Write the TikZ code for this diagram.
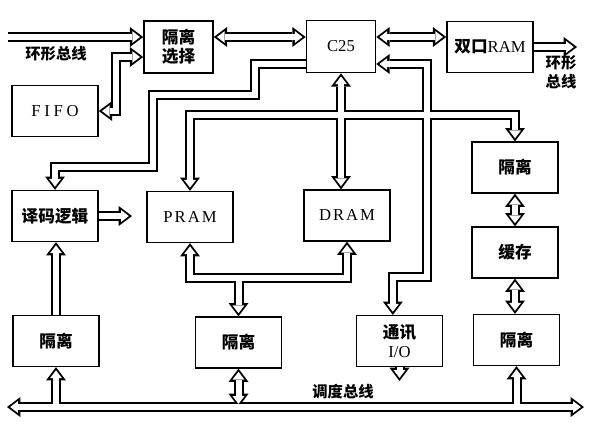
\documentclass[tikz,border=0pt]{standalone}
\usepackage{fontspec}
\setmainfont{Liberation Serif}
\newfontfamily\cjk{Noto Sans CJK SC}
\newfontfamily\spaced{Liberation Serif}[LetterSpace=22]
\newfontfamily\lessspaced{Liberation Serif}[LetterSpace=12]
\usetikzlibrary{arrows.meta}

\newcommand\zh[1]{{\cjk\bfseries #1}}

\tikzset{
  blk/.style={draw, line width=1.2pt, minimum width=64.5pt, minimum height=38pt,
              inner sep=1pt, align=center, font=\fontsize{12.5}{14}\selectfont},
  smallblk/.style={blk, minimum width=51.75pt, minimum height=39pt},
  lbl/.style={align=center, font=\fontsize{11.5}{14}\selectfont},
  busout/.style={line width=7.5pt, line join=miter,
                 >={Triangle[length=10pt,width=15pt,line width=0pt]}},
  busin/.style={white, line width=4.5pt, line join=miter,
                >={Triangle[length=5.8pt,width=8.9pt,sep=2.4pt,line width=0pt]}}
}

% every hollow bus, drawn once per pass
\newcommand\buslines{%
  \draw[->] (ringin) -- (ringin -| isosel.west);
  \draw[<->] (fifo.east) -| (fifobend) -- (fifobend -| isosel.west);
  \draw[<->] (ringin -| isosel.east) -- (ringin -| c25.west);
  \draw[<->] (ringin -| c25.east) -- (ringin -| dpram.west);
  \draw[->] (dpram.east) -- (ringout);
  \draw[->] (c25.west |- ka) -- (ka) |- (kb) |- (kc) -- (decode.north);
  \draw[<->] (c25.south) -- (c25.south |- dram.north);
  \draw[->] (hb) -| (pram.north);
  \draw[->] (hb) -| (isoR1.north);
  \draw[<->] (c25.east |- ka) -| (ke) -| ([xshift=-5pt]comm.north);
  \draw[->] (comm.south) -- (commout);
  \draw[->] (decode.east) -- (decout);
  \draw[->] (isoL.north) -- (isoL.north |- decode.south);
  \draw[<->] (pram.south) |- (kf) -| (dram.south);
  \draw[->] (kf) -- (kf |- isoM.north);
  \draw[<->] (isoM.south) -- (isoM.south |- sbusL);
  \draw[->] (isoL.south |- sbusL) -- (isoL.south);
  \draw[<->] (isoR1.south) -- (buffer.north);
  \draw[<->] (buffer.south) -- (buffer.south |- isoR2.north);
  \draw[->] (isoR2.south |- sbusL) -- (isoR2.south);
  \draw[<->] (sbusL) -- (sbusR);
}

\begin{document}
\begin{tikzpicture}[x=0.75pt, y=-0.75pt]
  \useasboundingbox (0,0) rectangle (591,430);

  % blocks
  \node[smallblk] (isosel) at (178.5,47) {\zh{隔离}\\\zh{选择}};
  \node[smallblk] (c25) at (341,46.5) {C25};
  \node[blk] (dpram) at (490,47) {\zh{双口}RAM};
  \node[blk] (fifo) at (55,111) {\spaced FIFO};
  \node[blk] (decode) at (55,216) {\zh{译码逻辑}};
  \node[blk] (pram) at (190,217) {\lessspaced PRAM};
  \node[blk] (dram) at (347,215.5) {\lessspaced DRAM};
  \node[blk] (isoR1) at (515,167.5) {\zh{隔离}};
  \node[blk] (buffer) at (515,252.5) {\zh{缓存}};
  \node[blk] (isoR2) at (516.5,340) {\zh{隔离}};
  \node[blk] (isoL) at (56,341) {\zh{隔离}};
  \node[blk] (isoM) at (238.5,342.5) {\zh{隔离}};
  \node[blk] (comm) at (399.5,341) {\zh{通讯}\\I/O};

  % bus ends and bends
  \coordinate (ringin) at (8,37);
  \coordinate (ringout) at (577,47);
  \coordinate (fifobend) at (116,57);
  \coordinate (ka) at (255,64);
  \coordinate (kb) at (153,95);
  \coordinate (kc) at (55,167);
  \coordinate (hb) at (341,115);
  \coordinate (ke) at (427,277);
  \coordinate (kf) at (238.5,278);
  \coordinate (commout) at (399.5,381);
  \coordinate (decout) at (132,216);
  \coordinate (sbusL) at (7,407);
  \coordinate (sbusR) at (584,407);

  \begin{scope}[busout] \buslines \end{scope}
  \begin{scope}[busin] \buslines \end{scope}

  % bus names
  \node[lbl] (ringlbl) at (56,53.5) {\zh{环形总线}};
  \node[lbl] (ringoutlbl) at (561,72) {\zh{环形}\\\zh{总线}};
  \node[lbl] (schedlbl) at (343,392) {\zh{调度总线}};
\end{tikzpicture}
\end{document}
